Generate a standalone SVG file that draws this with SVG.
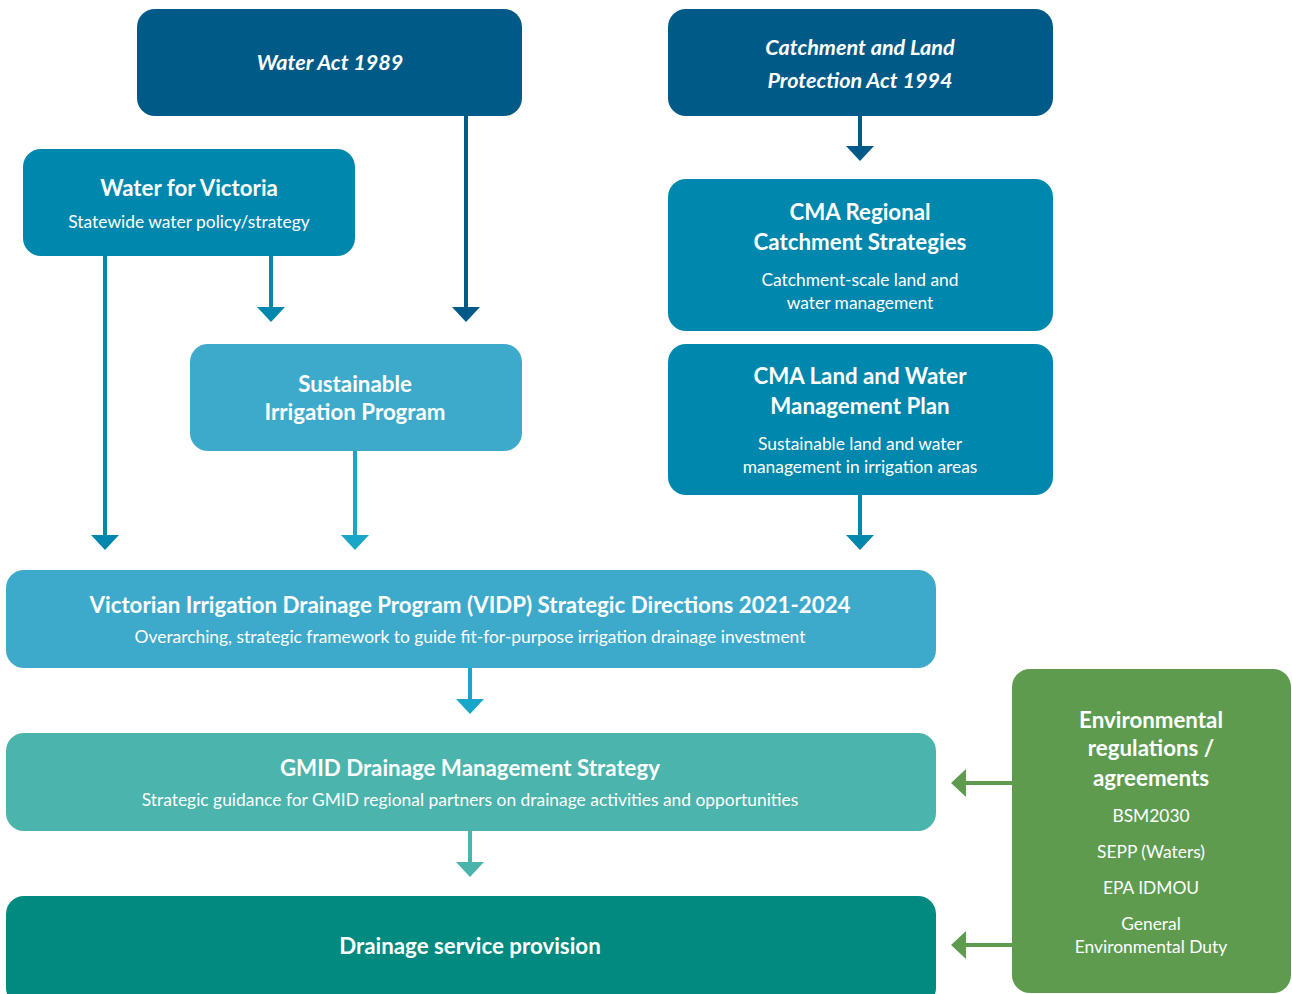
<svg xmlns="http://www.w3.org/2000/svg" width="1292" height="994" viewBox="0 0 1292 994">
<style>
text{font-family:Lato,"Source Sans Pro","Noto Sans",sans-serif;fill:#fff;text-anchor:middle}
.t{font-weight:700;font-size:22.3px}
.ti{font-weight:700;font-style:italic;font-size:21.6px}
.s{font-size:17.4px}
.ln{stroke-width:4;fill:none}
</style>
<rect width="1292" height="994" fill="#fff"/>
<g id="connectors">
<line class="ln" x1="105" y1="256" x2="105" y2="537" stroke="#0087ad"/><polygon points="91,535 119,535 105,550" fill="#0087ad"/>
<line class="ln" x1="271" y1="256" x2="271" y2="309" stroke="#0087ad"/><polygon points="257,307 285,307 271,322" fill="#0087ad"/>
<line class="ln" x1="466" y1="116" x2="466" y2="309" stroke="#005a87"/><polygon points="452,307 480,307 466,322" fill="#005a87"/>
<line class="ln" x1="860" y1="116" x2="860" y2="148" stroke="#005a87"/><polygon points="846,146 874,146 860,161" fill="#005a87"/>
<line class="ln" x1="355" y1="451" x2="355" y2="537" stroke="#1aa6c8"/><polygon points="341,535 369,535 355,550" fill="#1aa6c8"/>
<line class="ln" x1="860" y1="495" x2="860" y2="537" stroke="#0087ad"/><polygon points="846,535 874,535 860,550" fill="#0087ad"/>
<line class="ln" x1="470" y1="668" x2="470" y2="701" stroke="#1aa6c8"/><polygon points="456,699 484,699 470,714" fill="#1aa6c8"/>
<line class="ln" x1="470" y1="831" x2="470" y2="864" stroke="#4ab4ad"/><polygon points="456,862 484,862 470,877" fill="#4ab4ad"/>
<line class="ln" x1="1012" y1="783" x2="964" y2="783" stroke="#5e9b4f"/><polygon points="966,769 966,797 951,783" fill="#5e9b4f"/>
<line class="ln" x1="1012" y1="945" x2="964" y2="945" stroke="#5e9b4f"/><polygon points="966,931 966,959 951,945" fill="#5e9b4f"/>
</g>
<g id="water-act">
<rect x="137" y="9" width="385" height="107" rx="18" fill="#005a87"/>
<text class="ti" x="330" y="70">Water Act 1989</text>
</g>
<g id="catchment-act">
<rect x="668" y="9" width="385" height="107" rx="18" fill="#005a87"/>
<text class="ti" x="860" y="55">Catchment and Land</text>
<text class="ti" x="860" y="88">Protection Act 1994</text>
</g>
<g id="water-for-victoria">
<rect x="23" y="149" width="332" height="107" rx="18" fill="#0087ad"/>
<text class="t" x="189" y="196">Water for Victoria</text>
<text class="s" x="189" y="228">Statewide water policy/strategy</text>
</g>
<g id="cma-regional">
<rect x="668" y="179" width="385" height="152" rx="18" fill="#0087ad"/>
<text class="t" x="860" y="220">CMA Regional</text>
<text class="t" x="860" y="250">Catchment Strategies</text>
<text class="s" x="860" y="286">Catchment-scale land and</text>
<text class="s" x="860" y="309">water management</text>
</g>
<g id="sip">
<rect x="190" y="344" width="332" height="107" rx="18" fill="#3eaacb"/>
<text class="t" x="355" y="392">Sustainable</text>
<text class="t" x="355" y="420">Irrigation Program</text>
</g>
<g id="cma-lwmp">
<rect x="668" y="344" width="385" height="151" rx="18" fill="#0087ad"/>
<text class="t" x="860" y="384">CMA Land and Water</text>
<text class="t" x="860" y="414">Management Plan</text>
<text class="s" x="860" y="450">Sustainable land and water</text>
<text class="s" x="860" y="473">management in irrigation areas</text>
</g>
<g id="vidp">
<rect x="6" y="570" width="930" height="98" rx="18" fill="#3eaacb"/>
<text class="t" x="470" y="613">Victorian Irrigation Drainage Program (VIDP) Strategic Directions 2021-2024</text>
<text class="s" x="470" y="643">Overarching, strategic framework to guide fit-for-purpose irrigation drainage investment</text>
</g>
<g id="gmid">
<rect x="6" y="733" width="930" height="98" rx="18" fill="#4ab4ad"/>
<text class="t" x="470" y="776">GMID Drainage Management Strategy</text>
<text class="s" x="470" y="806">Strategic guidance for GMID regional partners on drainage activities and opportunities</text>
</g>
<g id="drainage">
<rect x="6" y="896" width="930" height="110" rx="18" fill="#008a80"/>
<text class="t" x="470" y="954">Drainage service provision</text>
</g>
<g id="env">
<rect x="1012" y="669" width="279" height="324" rx="18" fill="#5e9b4f"/>
<text class="t" x="1151" y="728">Environmental</text>
<text class="t" x="1151" y="756">regulations /</text>
<text class="t" x="1151" y="786">agreements</text>
<text class="s" x="1151" y="822">BSM2030</text>
<text class="s" x="1151" y="858">SEPP (Waters)</text>
<text class="s" x="1151" y="894">EPA IDMOU</text>
<text class="s" x="1151" y="930">General</text>
<text class="s" x="1151" y="953">Environmental Duty</text>
</g>
</svg>
